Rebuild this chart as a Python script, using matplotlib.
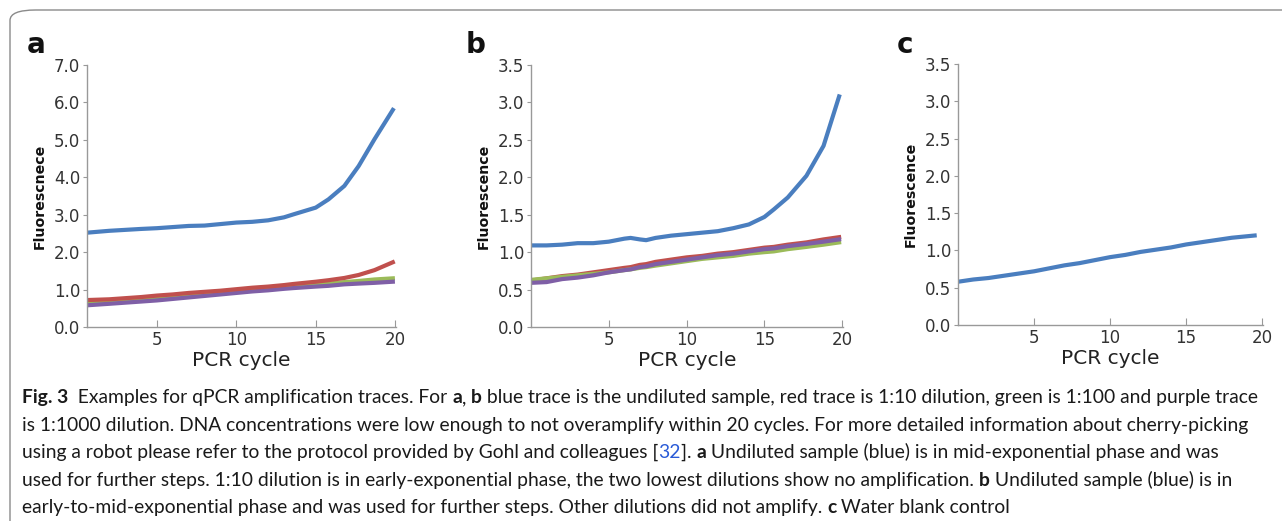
import matplotlib
matplotlib.use("Agg")
import matplotlib.pyplot as plt
from matplotlib import font_manager
from matplotlib.patches import FancyBboxPatch

# ---- data ----
a_cycle = [0.6, 2, 4, 5, 6, 7, 8, 9, 10, 11, 12, 13, 13.6, 15, 15.8, 16.8, 17.7, 18.7, 19.85]
a_blue = [2.52, 2.57, 2.62, 2.64, 2.67, 2.70, 2.71, 2.75, 2.79, 2.81, 2.85, 2.93, 3.01, 3.19, 3.41, 3.77, 4.30, 5.02, 5.80]
a_red = [0.72, 0.74, 0.80, 0.84, 0.87, 0.91, 0.94, 0.97, 1.01, 1.05, 1.08, 1.12, 1.15, 1.21, 1.25, 1.31, 1.39, 1.52, 1.73]
a_green = [0.66, 0.68, 0.74, 0.77, 0.80, 0.84, 0.87, 0.91, 0.95, 0.98, 1.02, 1.05, 1.08, 1.13, 1.16, 1.20, 1.23, 1.27, 1.30]
a_purple = [0.58, 0.62, 0.68, 0.71, 0.75, 0.79, 0.83, 0.87, 0.91, 0.95, 0.98, 1.02, 1.04, 1.08, 1.10, 1.14, 1.16, 1.18, 1.21]

b_cycle = [0, 1, 2, 3, 4, 5, 6, 6.4, 7, 7.4, 8, 9, 10, 11, 12, 13, 14, 15, 15.6, 16.5, 17.7, 18.8, 19.8]
b_blue = [1.09, 1.09, 1.10, 1.12, 1.12, 1.14, 1.18, 1.19, 1.17, 1.16, 1.19, 1.22, 1.24, 1.26, 1.28, 1.32, 1.37, 1.47, 1.57, 1.73, 2.02, 2.42, 3.08]
b_red = [0.62, 0.65, 0.68, 0.70, 0.73, 0.76, 0.79, 0.80, 0.83, 0.84, 0.87, 0.90, 0.93, 0.95, 0.98, 1.00, 1.03, 1.06, 1.07, 1.10, 1.13, 1.17, 1.20]
b_green = [0.63, 0.65, 0.67, 0.69, 0.71, 0.73, 0.76, 0.77, 0.79, 0.80, 0.82, 0.85, 0.88, 0.91, 0.93, 0.95, 0.98, 1.00, 1.01, 1.04, 1.07, 1.10, 1.13]
b_purple = [0.59, 0.60, 0.64, 0.66, 0.69, 0.73, 0.76, 0.77, 0.80, 0.81, 0.84, 0.87, 0.90, 0.93, 0.96, 0.98, 1.01, 1.04, 1.05, 1.08, 1.11, 1.14, 1.17]

c_cycle = [0, 1, 2, 3, 4, 5, 6, 7, 8, 9, 10, 11, 12, 13, 14, 15, 16, 17, 18, 19, 19.5]
c_blue = [0.58, 0.61, 0.63, 0.66, 0.69, 0.72, 0.76, 0.80, 0.83, 0.87, 0.91, 0.94, 0.98, 1.01, 1.04, 1.08, 1.11, 1.14, 1.17, 1.19, 1.20]

x_ticks = [5, 10, 15, 20]
colors = {"blue": "#4a7ebf", "red": "#c0504d", "green": "#9bbb59", "purple": "#7f5fa6"}

W, H = 1282, 521
fig = plt.figure(figsize=(W / 100, H / 100), dpi=100)

# rounded frame (runs off the right/bottom edge like the screenshot)
frame = FancyBboxPatch((10 / W, -0.2), 1.2, (H - 10) / H + 0.2,
                       boxstyle="round,pad=0,rounding_size=0.02",
                       transform=fig.transFigure, fill=False,
                       edgecolor="#8a8a8a", linewidth=1.0)
fig.patches.append(frame)


def style_axes(ax, ymax, ystep, xmin, ylabel):
    ax.set_xlim(xmin, 20.05)
    ax.set_ylim(0, ymax)
    ax.set_xticks(x_ticks)
    yt = [i * ystep for i in range(int(round(ymax / ystep)) + 1)]
    ax.set_yticks(yt)
    ax.set_yticklabels(["%.1f" % v for v in yt])
    for s in ["top", "right"]:
        ax.spines[s].set_visible(False)
    for s in ["left", "bottom"]:
        ax.spines[s].set_color("#999999")
        ax.spines[s].set_linewidth(1.0)
    ax.tick_params(axis="x", direction="in", length=5, color="#999999",
                   labelsize=12, labelcolor="#333333", pad=3)
    ax.tick_params(axis="y", direction="out", length=3, color="#999999",
                   labelsize=12, labelcolor="#333333", pad=2)
    ax.set_xlabel("PCR cycle", fontsize=14.5, color="#222222", labelpad=1)
    ax.set_ylabel(ylabel, fontsize=10.2, fontweight="bold", color="#111111", labelpad=5)
    ax.patch.set_alpha(0)


lw = 3.0
ax_a = fig.add_axes([87 / W, (H - 327) / H, 309 / W, 262 / H])
ax_a.plot(a_cycle, a_blue, color=colors["blue"], lw=lw)
ax_a.plot(a_cycle, a_green, color=colors["green"], lw=lw)
ax_a.plot(a_cycle, a_purple, color=colors["purple"], lw=lw)
ax_a.plot(a_cycle, a_red, color=colors["red"], lw=lw)
style_axes(ax_a, 7.0, 1.0, 0.6, "Fluorescnece")

ax_b = fig.add_axes([531 / W, (H - 327) / H, 312 / W, 262 / H])
ax_b.plot(b_cycle, b_blue, color=colors["blue"], lw=lw)
ax_b.plot(b_cycle, b_red, color=colors["red"], lw=lw)
ax_b.plot(b_cycle, b_green, color=colors["green"], lw=lw)
ax_b.plot(b_cycle, b_purple, color=colors["purple"], lw=lw)
style_axes(ax_b, 3.5, 0.5, 0.0, "Fluorescence")

ax_c = fig.add_axes([958 / W, (H - 325) / H, 305 / W, 261 / H])
ax_c.plot(c_cycle, c_blue, color=colors["blue"], lw=lw)
style_axes(ax_c, 3.5, 0.5, 0.0, "Fluorescence")

# panel letters
for letter, px in [("a", 27), ("b", 466), ("c", 897)]:
    fig.text(px / W, (H - 53) / H, letter, fontsize=20, fontweight="bold",
             color="#111111", ha="left", va="baseline")

# ---- caption ----
names = {f.name for f in font_manager.fontManager.ttflist}
cap_font = "DejaVu Sans"
for cand in ["Lato", "Liberation Sans Narrow", "Liberation Sans"]:
    if cand in names:
        cap_font = cand
        break

B, N, L = "bold", "normal", "link"
cap_lines = [
    [("Fig. 3", B), ("  Examples for qPCR amplification traces. For ", N), ("a", B), (", ", N), ("b", B),
     (" blue trace is the undiluted sample, red trace is 1:10 dilution, green is 1:100 and purple trace", N)],
    [("is 1:1000 dilution. DNA concentrations were low enough to not overamplify within 20 cycles. "
      "For more detailed information about cherry-picking", N)],
    [("using a robot please refer to the protocol provided by Gohl and colleagues [", N), ("32", L), ("]. ", N),
     ("a", B), (" Undiluted sample (blue) is in mid-exponential phase and was", N)],
    [("used for further steps. 1:10 dilution is in early-exponential phase, the two lowest dilutions show "
      "no amplification. ", N), ("b", B), (" Undiluted sample (blue) is in", N)],
    [("early-to-mid-exponential phase and was used for further steps. Other dilutions did not amplify. ", N),
     ("c", B), (" Water blank control", N)],
]

renderer = fig.canvas.get_renderer()


def run_width(s, weight, size):
    t1 = fig.text(0, 0, s + "|", fontsize=size, fontweight=weight, family=cap_font, transform=None)
    t2 = fig.text(0, 0, "|", fontsize=size, fontweight=weight, family=cap_font, transform=None)
    w = t1.get_window_extent(renderer).width - t2.get_window_extent(renderer).width
    t1.remove()
    t2.remove()
    return w


# fit the first line to the reference width
base_size = 13.0
w0 = sum(run_width(s, "bold" if k == B else "normal", base_size) for s, k in cap_lines[0])
cap_size = base_size * 1234 / w0

baselines = [403, 431, 458, 486, 513]
for line, yb in zip(cap_lines, baselines):
    x = 22
    for s, kind in line:
        weight = "bold" if kind == B else "normal"
        col = "#2a5bd7" if kind == L else "#1a1a1a"
        fig.text(x, H - yb, s, fontsize=cap_size, fontweight=weight, color=col,
                 family=cap_font, transform=None, ha="left", va="baseline")
        x += run_width(s, weight, cap_size)

fig.savefig("out.png", dpi=100)
